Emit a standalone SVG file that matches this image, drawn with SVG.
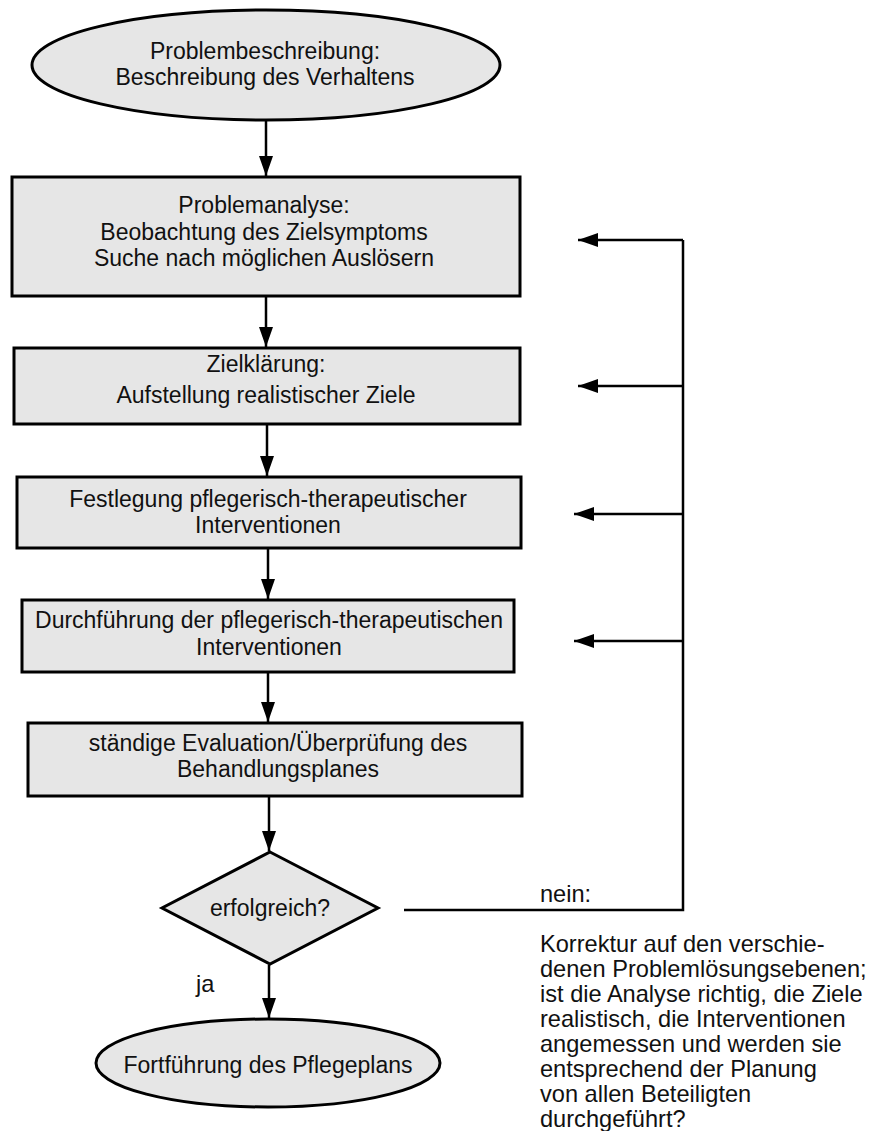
<svg xmlns="http://www.w3.org/2000/svg" width="869" height="1131" viewBox="0 0 869 1131">
<style>
.n{fill:#e6e6e6;stroke:#000;stroke-width:3}
.t{font-family:"Liberation Sans",Arial,sans-serif;font-size:23px;fill:#111;text-anchor:middle}
.l{font-family:"Liberation Sans",Arial,sans-serif;font-size:23.6px;fill:#111}
.c{fill:none;stroke:#000;stroke-width:2.5}
</style>
<defs>
<marker id="ah" viewBox="0 0 20 14" refX="20" refY="7" markerWidth="20" markerHeight="14" markerUnits="userSpaceOnUse" orient="auto">
<path d="M0,0 L20,7 L0,14 z" fill="#000"/>
</marker>
</defs>
<rect width="869" height="1131" fill="#fff"/>
<g id="connectors">
<line class="c" x1="266" y1="120" x2="266" y2="176" marker-end="url(#ah)"/>
<line class="c" x1="266" y1="297" x2="266" y2="347" marker-end="url(#ah)"/>
<line class="c" x1="267" y1="425" x2="267" y2="476" marker-end="url(#ah)"/>
<line class="c" x1="268" y1="549" x2="268" y2="599" marker-end="url(#ah)"/>
<line class="c" x1="268" y1="673" x2="268" y2="722" marker-end="url(#ah)"/>
<line class="c" x1="269" y1="797" x2="269" y2="851" marker-end="url(#ah)"/>
<line class="c" x1="269" y1="965" x2="269" y2="1018" marker-end="url(#ah)"/>
<polyline class="c" points="404,910 683,910 683,240"/>
<line class="c" x1="683" y1="240" x2="578" y2="240" marker-end="url(#ah)"/>
<line class="c" x1="683" y1="386" x2="578" y2="386" marker-end="url(#ah)"/>
<line class="c" x1="683" y1="514" x2="574" y2="514" marker-end="url(#ah)"/>
<line class="c" x1="683" y1="641" x2="574" y2="641" marker-end="url(#ah)"/>
</g>
<g id="start">
<ellipse class="n" cx="266" cy="65" rx="234" ry="55"/>
<text class="t" x="265" y="59">Problembeschreibung:</text>
<text class="t" x="265" y="85">Beschreibung des Verhaltens</text>
</g>
<g id="analyse">
<rect class="n" x="12" y="177" width="508" height="119"/>
<text class="t" x="264" y="213">Problemanalyse:</text>
<text class="t" x="264" y="240">Beobachtung des Zielsymptoms</text>
<text class="t" x="264" y="266">Suche nach möglichen Auslösern</text>
</g>
<g id="ziel">
<rect class="n" x="14" y="348" width="506" height="76"/>
<text class="t" x="266" y="372">Zielklärung:</text>
<text class="t" x="266" y="403">Aufstellung realistischer Ziele</text>
</g>
<g id="festlegung">
<rect class="n" x="17" y="477" width="504" height="71"/>
<text class="t" x="268" y="507">Festlegung pflegerisch-therapeutischer</text>
<text class="t" x="268" y="533">Interventionen</text>
</g>
<g id="durchfuehrung">
<rect class="n" x="22" y="600" width="492" height="72"/>
<text class="t" x="269" y="628">Durchführung der pflegerisch-therapeutischen</text>
<text class="t" x="269" y="655">Interventionen</text>
</g>
<g id="evaluation">
<rect class="n" x="28" y="723" width="494" height="73"/>
<text class="t" x="278" y="751">ständige Evaluation/Überprüfung des</text>
<text class="t" x="278" y="777">Behandlungsplanes</text>
</g>
<g id="decision">
<polygon class="n" points="270,852 378,908 270,964 162,908"/>
<text class="t" x="270" y="916">erfolgreich?</text>
</g>
<g id="end">
<ellipse class="n" cx="268" cy="1063" rx="172" ry="44"/>
<text class="t" x="268" y="1073">Fortführung des Pflegeplans</text>
</g>
<g id="labels">
<text class="l" x="196" y="992">ja</text>
<text class="l" x="540" y="902">nein:</text>
<text class="l" x="540" y="952">Korrektur auf den verschie-</text>
<text class="l" x="540" y="977">denen Problemlösungsebenen;</text>
<text class="l" x="540" y="1002">ist die Analyse richtig, die Ziele</text>
<text class="l" x="540" y="1027">realistisch, die Interventionen</text>
<text class="l" x="540" y="1052">angemessen und werden sie</text>
<text class="l" x="540" y="1077">entsprechend der Planung</text>
<text class="l" x="540" y="1102">von allen Beteiligten</text>
<text class="l" x="540" y="1127">durchgeführt?</text>
</g>
</svg>
